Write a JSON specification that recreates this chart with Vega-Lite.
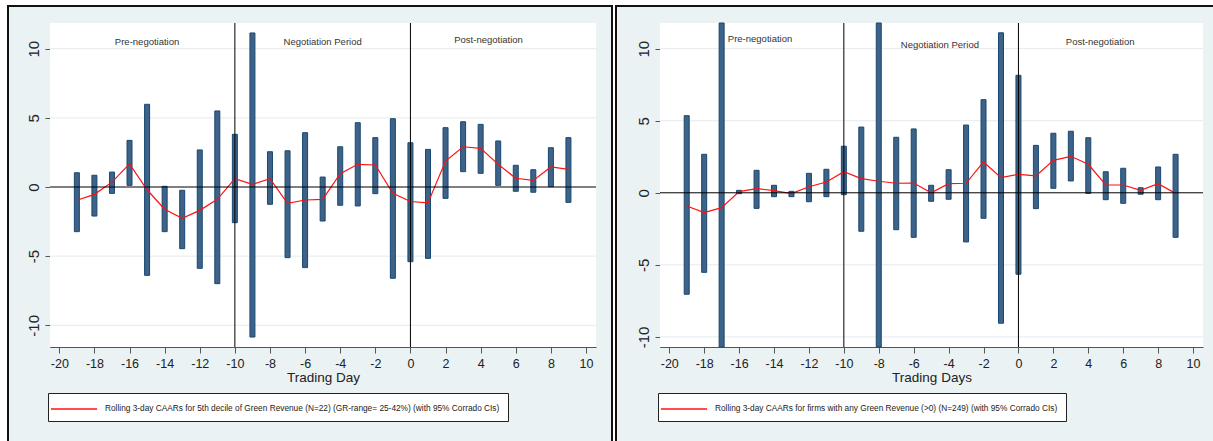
{
  "$schema": "https://vega.github.io/schema/vega-lite/v6.json",
  "background": "white",
  "padding": {"left": 7, "top": 5, "right": 0, "bottom": 0},
  "spacing": 2,
  "datasets": {
    "decile5": [
      {"day": -19, "caar": -0.96, "lo": -3.23, "hi": 1.03},
      {"day": -18, "caar": -0.53, "lo": -2.10, "hi": 0.85},
      {"day": -17, "caar": 0.35, "lo": -0.46, "hi": 1.08},
      {"day": -16, "caar": 1.67, "lo": 0.12, "hi": 3.37},
      {"day": -15, "caar": -0.2, "lo": -6.39, "hi": 5.98},
      {"day": -14, "caar": -1.61, "lo": -3.23, "hi": 0.05},
      {"day": -13, "caar": -2.26, "lo": -4.46, "hi": -0.24},
      {"day": -12, "caar": -1.69, "lo": -5.88, "hi": 2.68},
      {"day": -11, "caar": -0.89, "lo": -6.99, "hi": 5.50},
      {"day": -10, "caar": 0.6, "lo": -2.58, "hi": 3.81},
      {"day": -9, "caar": 0.19, "lo": -10.85, "hi": 11.14},
      {"day": -8, "caar": 0.6, "lo": -1.25, "hi": 2.55},
      {"day": -7, "caar": -1.18, "lo": -5.11, "hi": 2.62},
      {"day": -6, "caar": -0.94, "lo": -5.83, "hi": 3.93},
      {"day": -5, "caar": -0.89, "lo": -2.46, "hi": 0.72},
      {"day": -4, "caar": 0.96, "lo": -1.32, "hi": 2.91},
      {"day": -3, "caar": 1.64, "lo": -1.37, "hi": 4.65},
      {"day": -2, "caar": 1.59, "lo": -0.48, "hi": 3.57},
      {"day": -1, "caar": -0.45, "lo": -6.6, "hi": 4.94},
      {"day": 0, "caar": -1.05, "lo": -5.4, "hi": 3.2},
      {"day": 1, "caar": -1.15, "lo": -5.16, "hi": 2.72},
      {"day": 2, "caar": 1.88, "lo": -0.82, "hi": 4.29},
      {"day": 3, "caar": 2.91, "lo": 1.11, "hi": 4.72},
      {"day": 4, "caar": 2.8, "lo": 0.99, "hi": 4.53},
      {"day": 5, "caar": 1.64, "lo": 0.12, "hi": 3.33},
      {"day": 6, "caar": 0.63, "lo": -0.31, "hi": 1.57},
      {"day": 7, "caar": 0.48, "lo": -0.38, "hi": 1.25},
      {"day": 8, "caar": 1.45, "lo": 0.02, "hi": 2.84},
      {"day": 9, "caar": 1.28, "lo": -1.11, "hi": 3.57}
    ],
    "anyGreen": [
      {"day": -19, "caar": -0.92, "lo": -7.04, "hi": 5.35},
      {"day": -18, "caar": -1.38, "lo": -5.52, "hi": 2.67},
      {"day": -17, "caar": -1.03, "lo": -13.5, "hi": 13.5},
      {"day": -16, "caar": 0.08, "lo": -0.06, "hi": 0.17},
      {"day": -15, "caar": 0.29, "lo": -1.08, "hi": 1.56},
      {"day": -14, "caar": 0.15, "lo": -0.27, "hi": 0.52},
      {"day": -13, "caar": -0.06, "lo": -0.27, "hi": 0.1},
      {"day": -12, "caar": 0.42, "lo": -0.62, "hi": 1.35},
      {"day": -11, "caar": 0.75, "lo": -0.27, "hi": 1.63},
      {"day": -10, "caar": 1.46, "lo": -0.13, "hi": 3.23},
      {"day": -9, "caar": 0.98, "lo": -2.67, "hi": 4.56},
      {"day": -8, "caar": 0.8, "lo": -13.5, "hi": 13.5},
      {"day": -7, "caar": 0.66, "lo": -2.56, "hi": 3.85},
      {"day": -6, "caar": 0.68, "lo": -3.09, "hi": 4.43},
      {"day": -5, "caar": 0.0, "lo": -0.59, "hi": 0.52},
      {"day": -4, "caar": 0.63, "lo": -0.45, "hi": 1.6},
      {"day": -3, "caar": 0.66, "lo": -3.41, "hi": 4.7},
      {"day": -2, "caar": 2.14, "lo": -1.77, "hi": 6.46},
      {"day": -1, "caar": 1.05, "lo": -9.05, "hi": 11.1},
      {"day": 0, "caar": 1.28, "lo": -5.65, "hi": 8.15},
      {"day": 1, "caar": 1.17, "lo": -1.1, "hi": 3.29},
      {"day": 2, "caar": 2.25, "lo": 0.31, "hi": 4.13},
      {"day": 3, "caar": 2.53, "lo": 0.82, "hi": 4.27},
      {"day": 4, "caar": 1.98, "lo": -0.04, "hi": 3.82},
      {"day": 5, "caar": 0.54, "lo": -0.48, "hi": 1.46},
      {"day": 6, "caar": 0.54, "lo": -0.73, "hi": 1.7},
      {"day": 7, "caar": 0.17, "lo": -0.1, "hi": 0.35},
      {"day": 8, "caar": 0.63, "lo": -0.48, "hi": 1.79},
      {"day": 9, "caar": -0.04, "lo": -3.09, "hi": 2.67}
    ]
  },
  "resolve": {"scale": {"color": "independent"}, "legend": {"color": "independent"}},
  "hconcat": [
    {
      "width": 604,
      "height": 435,
      "view": {"fill": "#eaf2f3", "stroke": "#111111", "strokeWidth": 2, "strokeDash": [1039, 604, 435]},
      "layer": [
        {
          "data": {"values": [{}]},
          "mark": {"type": "rect", "fill": "white"},
          "encoding": {
            "x": {
              "datum": -20.53, "type": "quantitative",
              "scale": {"domain": [-20.53, 10.57], "range": [42, 588], "padding": 0, "clamp": true, "nice": false, "zero": false},
              "axis": {"orient": "bottom", "offset": -94, "title": "Trading Day", "tickCount": 40,
                       "values": [-20, -18, -16, -14, -12, -10, -8, -6, -4, -2, 0, 2, 4, 6, 8, 10],
                       "labelExpr": "datum.value + ''"}
            },
            "x2": {"datum": 10.57},
            "y": {
              "datum": -11.57, "type": "quantitative",
              "scale": {"domain": [-11.57, 11.86], "range": [341, 17], "padding": 0, "clamp": true, "nice": false, "zero": false},
              "axis": {"orient": "left", "offset": -42, "title": null, "tickCount": 10,
                       "values": [-10, -5, 0, 5, 10], "labelExpr": "datum.value + ''"}
            },
            "y2": {"datum": 11.86}
          }
        },
        {
          "data": {"values": [{"g": -10}, {"g": -5}, {"g": 5}, {"g": 10}]},
          "mark": {"type": "rule", "color": "#e3ebee", "strokeWidth": 1},
          "encoding": {
            "y": {"field": "g", "type": "quantitative"},
            "x": {"datum": -20.53, "type": "quantitative"},
            "x2": {"datum": 10.57}
          }
        },
        {
          "data": {"name": "decile5"},
          "mark": {"type": "bar", "width": 5, "fill": "#3e6389", "stroke": "#1a476f", "strokeWidth": 1},
          "encoding": {
            "x": {"field": "day", "type": "quantitative"},
            "y": {"field": "lo", "type": "quantitative"},
            "y2": {"field": "hi"}
          }
        },
        {
          "data": {"name": "decile5"},
          "mark": {"type": "line", "strokeWidth": 1.2},
          "encoding": {
            "x": {"field": "day", "type": "quantitative"},
            "y": {"field": "caar", "type": "quantitative"},
            "color": {
              "datum": "Rolling 3-day CAARs for 5th decile of Green Revenue (N=22) (GR-range= 25-42%) (with 95% Corrado CIs)",
              "scale": {"range": ["#ff1010"]},
              "legend": {"orient": "none", "legendX": 40, "legendY": 387}
            }
          }
        },
        {
          "data": {"values": [{}]},
          "mark": {"type": "rule", "color": "black", "strokeWidth": 1},
          "encoding": {
            "y": {"datum": 0, "type": "quantitative"},
            "x": {"datum": -20.53, "type": "quantitative"},
            "x2": {"datum": 10.57}
          }
        },
        {
          "data": {"values": [{"day": -10}, {"day": 0}]},
          "mark": {"type": "rule", "color": "black", "strokeWidth": 1},
          "encoding": {
            "x": {"field": "day", "type": "quantitative"},
            "y": {"datum": -11.57, "type": "quantitative"},
            "y2": {"datum": 11.86}
          }
        },
        {
          "data": {"values": [
            {"day": -15, "v": 10.5, "label": "Pre-negotiation"},
            {"day": -5, "v": 10.45, "label": "Negotiation Period"},
            {"day": 4.45, "v": 10.6, "label": "Post-negotiation"}
          ]},
          "mark": {"type": "text", "font": "Liberation Sans, Arial", "fontSize": 9.5, "color": "#333333", "align": "center", "baseline": "middle"},
          "encoding": {
            "x": {"field": "day", "type": "quantitative"},
            "y": {"field": "v", "type": "quantitative"},
            "text": {"field": "label"}
          }
        }
      ]
    },
    {
      "width": 599,
      "height": 435,
      "view": {"fill": "#eaf2f3", "stroke": "#111111", "strokeWidth": 2, "strokeDash": [599, 1034, 435]},
      "layer": [
        {
          "data": {"values": [{}]},
          "mark": {"type": "rect", "fill": "white"},
          "encoding": {
            "x": {
              "datum": -20.53, "type": "quantitative",
              "scale": {"domain": [-20.53, 10.57], "range": [44, 587], "padding": 0, "clamp": true, "nice": false, "zero": false},
              "axis": {"orient": "bottom", "offset": -94, "title": "Trading Days", "tickCount": 40,
                       "values": [-20, -18, -16, -14, -12, -10, -8, -6, -4, -2, 0, 2, 4, 6, 8, 10],
                       "labelExpr": "datum.value + ''"}
            },
            "x2": {"datum": 10.57},
            "y": {
              "datum": -10.7, "type": "quantitative",
              "scale": {"domain": [-10.7, 11.78], "range": [341, 17], "padding": 0, "clamp": true, "nice": false, "zero": false},
              "axis": {"orient": "left", "offset": -44, "title": null, "tickCount": 10,
                       "values": [-10, -5, 0, 5, 10], "labelExpr": "datum.value + ''"}
            },
            "y2": {"datum": 11.78}
          }
        },
        {
          "data": {"values": [{"g": -10}, {"g": -5}, {"g": 5}, {"g": 10}]},
          "mark": {"type": "rule", "color": "#e3ebee", "strokeWidth": 1},
          "encoding": {
            "y": {"field": "g", "type": "quantitative"},
            "x": {"datum": -20.53, "type": "quantitative"},
            "x2": {"datum": 10.57}
          }
        },
        {
          "data": {"name": "anyGreen"},
          "mark": {"type": "bar", "width": 5, "fill": "#3e6389", "stroke": "#1a476f", "strokeWidth": 1},
          "encoding": {
            "x": {"field": "day", "type": "quantitative"},
            "y": {"field": "lo", "type": "quantitative"},
            "y2": {"field": "hi"}
          }
        },
        {
          "data": {"name": "anyGreen"},
          "mark": {"type": "line", "strokeWidth": 1.2},
          "encoding": {
            "x": {"field": "day", "type": "quantitative"},
            "y": {"field": "caar", "type": "quantitative"},
            "color": {
              "datum": "Rolling 3-day CAARs for firms with any Green Revenue (>0) (N=249) (with 95% Corrado CIs)",
              "scale": {"range": ["#ff1010"]},
              "legend": {"orient": "none", "legendX": 42, "legendY": 387}
            }
          }
        },
        {
          "data": {"values": [{}]},
          "mark": {"type": "rule", "color": "black", "strokeWidth": 1},
          "encoding": {
            "y": {"datum": 0, "type": "quantitative"},
            "x": {"datum": -20.53, "type": "quantitative"},
            "x2": {"datum": 10.57}
          }
        },
        {
          "data": {"values": [{"day": -10}, {"day": 0}]},
          "mark": {"type": "rule", "color": "black", "strokeWidth": 1},
          "encoding": {
            "x": {"field": "day", "type": "quantitative"},
            "y": {"datum": -10.7, "type": "quantitative"},
            "y2": {"datum": 11.78}
          }
        },
        {
          "data": {"values": [
            {"day": -14.8, "v": 10.67, "label": "Pre-negotiation"},
            {"day": -4.5, "v": 10.27, "label": "Negotiation Period"},
            {"day": 4.68, "v": 10.47, "label": "Post-negotiation"}
          ]},
          "mark": {"type": "text", "font": "Liberation Sans, Arial", "fontSize": 9.5, "color": "#333333", "align": "center", "baseline": "middle"},
          "encoding": {
            "x": {"field": "day", "type": "quantitative"},
            "y": {"field": "v", "type": "quantitative"},
            "text": {"field": "label"}
          }
        }
      ]
    }
  ],
  "config": {
    "axis": {
      "domainColor": "#555555", "domainWidth": 1, "tickColor": "#555555", "tickWidth": 1,
      "labelColor": "#222222", "titleColor": "#222222", "titleFontWeight": "normal",
      "grid": false, "labelFlush": false, "labelOverlap": false
    },
    "axisX": {
      "tickSize": 6, "labelPadding": 4,
      "labelFont": "Liberation Sans, Arial", "labelFontSize": 12.5,
      "titleFont": "Liberation Sans, Arial", "titleFontSize": 13.5, "titlePadding": 1
    },
    "axisY": {
      "tickSize": 5, "labelPadding": 4, "labelAngle": -90,
      "labelFont": "Liberation Sans, Arial", "labelFontSize": 15
    },
    "legend": {
      "title": null,
      "fillColor": "white", "strokeColor": "#222222", "padding": 8, "cornerRadius": 0,
      "symbolType": "M-3.3,0H3.3", "symbolSize": 196, "symbolStrokeWidth": 1.3,
      "symbolOffset": 10, "labelOffset": 23,
      "labelFont": "Liberation Sans, Arial", "labelFontSize": 8.3,
      "labelColor": "#222222", "labelLimit": 700
    }
  }
}
